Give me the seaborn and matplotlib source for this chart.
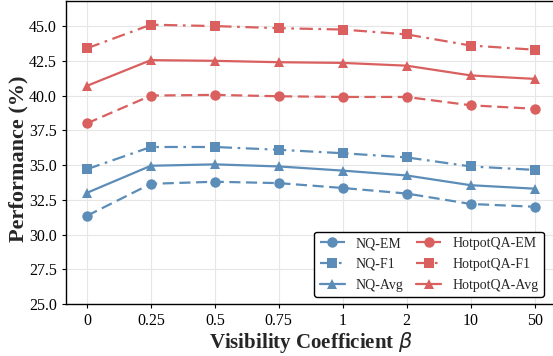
import matplotlib
matplotlib.use("Agg")
import matplotlib.pyplot as plt
import seaborn as sns
import pandas as pd

betas = ["0", "0.25", "0.5", "0.75", "1", "2", "10", "50"]
nq_em = [31.35, 33.65, 33.8, 33.7, 33.35, 32.95, 32.2, 32.0]
nq_f1 = [34.7, 36.3, 36.3, 36.1, 35.85, 35.55, 34.9, 34.65]
nq_avg = [33.0, 34.95, 35.05, 34.9, 34.6, 34.25, 33.55, 33.3]
hp_em = [38.0, 40.0, 40.05, 39.95, 39.9, 39.9, 39.3, 39.05]
hp_f1 = [43.4, 45.1, 45.0, 44.85, 44.75, 44.4, 43.6, 43.3]
hp_avg = [40.7, 42.55, 42.5, 42.4, 42.35, 42.15, 41.45, 41.2]

sns.set_theme(style="whitegrid")
plt.rcParams["font.family"] = ["Liberation Serif", "DejaVu Serif"]
plt.rcParams["mathtext.fontset"] = "dejavusans"

blue = "#5b8db8"
red = "#d9605f"
series = [
    ("NQ-EM", nq_em, blue, "o", (0, (5, 2.5))),
    ("NQ-F1", nq_f1, blue, "s", (0, (6, 2.5, 1.2, 2.5))),
    ("NQ-Avg", nq_avg, blue, "^", "-"),
    ("HotpotQA-EM", hp_em, red, "o", (0, (5, 2.5))),
    ("HotpotQA-F1", hp_f1, red, "s", (0, (6, 2.5, 1.2, 2.5))),
    ("HotpotQA-Avg", hp_avg, red, "^", "-"),
]

fig = plt.figure(figsize=(5.53, 3.56), dpi=100)
ax = fig.add_axes([0.119, 0.146, 0.886, 0.851])
x = list(range(len(betas)))
for name, vals, c, m, ls in series:
    df = pd.DataFrame({"x": x, "y": vals})
    sns.lineplot(data=df, x="x", y="y", ax=ax, color=c, marker=m, markersize=7.5,
                 linestyle=ls, linewidth=1.6, markeredgewidth=0, label=name)

ax.set_xlim(-0.33, 7.33)
ax.set_ylim(25, 46.8)
ax.set_xticks(x)
ax.set_xticklabels(betas)
yt = [25, 27.5, 30, 32.5, 35, 37.5, 40, 42.5, 45]
ax.set_yticks(yt)
ax.set_yticklabels([f"{v:.1f}" for v in yt])
ax.tick_params(labelsize=11.5, colors="black", length=3, left=True, bottom=True, width=0.8)
for s in ax.spines.values():
    s.set_color("black")
    s.set_linewidth(1.0)
ax.grid(color="#e6e6e6", linewidth=0.8)
ax.set_facecolor("white")
ax.set_xlabel(r"Visibility Coefficient $\beta$", fontsize=15, fontweight="bold", labelpad=1)
ax.set_ylabel("Performance (%)", fontsize=16, fontweight="bold", labelpad=3)
ax.yaxis.set_label_coords(-0.077, 0.48)
leg = ax.legend(loc="lower right", ncol=2, fontsize=10, frameon=True, edgecolor="black",
                fancybox=True, framealpha=1, handlelength=1.8, columnspacing=0.9,
                handletextpad=0.8, borderpad=0.4, labelspacing=0.55,
                bbox_to_anchor=(0.99, 0.0))
leg.get_frame().set_linewidth(1.0)
fig.savefig("out.png", dpi=100)
